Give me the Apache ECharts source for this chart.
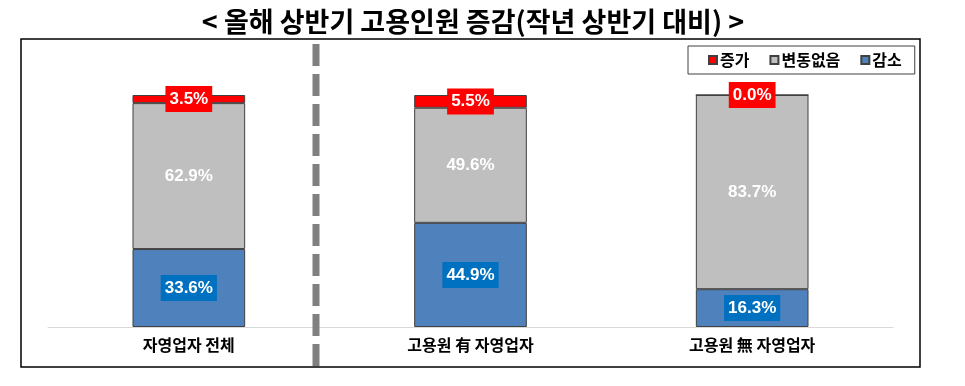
<!DOCTYPE html>
<html><head><meta charset="utf-8">
<script src="https://cdn.jsdelivr.net/npm/echarts@6/dist/echarts.min.js"></script>
<style>html,body{margin:0;padding:0;background:#fff}#c{width:965px;height:386px}</style>
</head><body><div id="c"></div>
<script>
const categories = ['자영업자 전체', '고용원 有 자영업자', '고용원 無 자영업자'];
const increase = [3.5, 5.5, 0.0];
const unchanged = [62.9, 49.6, 83.7];
const decrease = [33.6, 44.9, 16.3];
const seriesNames = ['증가', '변동없음', '감소'];
const titleText = '< 올해 상반기 고용인원 증감(작년 상반기 대비) >';

const chart = echarts.init(document.getElementById('c'), null, {renderer: 'canvas'});
const numFont = '"Liberation Sans", Arial, sans-serif';
const krFont = '"Noto Sans CJK KR", sans-serif';
const fmt = p => p.value.toFixed(1) + '%';
chart.setOption({
  animation: false,
  title: {
    text: titleText, left: 468, top: 3, textAlign: 'center',
    textStyle: {fontFamily: krFont, fontSize: 27, fontWeight: 'bold', color: '#000'}
  },
  legend: {
    data: seriesNames, left: 688, top: 46,
    icon: 'rect', itemWidth: 8, itemHeight: 8, itemGap: 20,
    padding: [6, 13, 6, 20],
    borderColor: '#404040', borderWidth: 1,
    textStyle: {fontFamily: krFont, fontSize: 16, fontWeight: 'bold', color: '#000', padding: [0, 0, 0, -2]}
  },
  grid: {left: 48, right: 72, top: 95, bottom: 59},
  xAxis: {
    type: 'category', data: categories,
    axisLine: {lineStyle: {color: '#D9D9D9', width: 1}},
    axisTick: {show: false},
    axisLabel: {margin: 10, fontFamily: krFont, fontSize: 16, fontWeight: 'bold', color: '#000'}
  },
  yAxis: {type: 'value', min: 0, max: 100, show: false, splitLine: {show: false}},
  series: [
    {
      name: '감소', type: 'bar', stack: 't', data: decrease, barWidth: '40%',
      itemStyle: {color: '#4F81BD', borderColor: '#404040', borderWidth: 1},
      label: {show: true, position: 'inside', formatter: fmt, color: '#fff', fontWeight: 'bold',
        fontFamily: numFont, fontSize: 17, backgroundColor: '#0070C0', padding: [5, 4, 4, 4]}
    },
    {
      name: '변동없음', type: 'bar', stack: 't', data: unchanged,
      itemStyle: {color: '#BFBFBF', borderColor: '#404040', borderWidth: 1},
      label: {show: true, position: 'inside', formatter: fmt, color: '#fff', fontWeight: 'bold',
        fontFamily: numFont, fontSize: 17}
    },
    {
      name: '증가', type: 'bar', stack: 't', data: increase,
      itemStyle: {color: '#FF0000', borderColor: '#404040', borderWidth: 1},
      label: {show: true, position: 'inside', formatter: fmt, color: '#fff', fontWeight: 'bold',
        fontFamily: numFont, fontSize: 17, backgroundColor: '#FF0000', padding: [5, 4, 4, 4]}
    }
  ],
  graphic: [
    {type: 'rect', shape: {x: 21, y: 39, width: 899, height: 328}, style: {fill: 'none', stroke: '#000', lineWidth: 1.5}, z: 100},
    {type: 'line', shape: {x1: 316, y1: 44, x2: 316, y2: 366}, style: {stroke: '#808080', lineWidth: 7, lineDash: [22, 8]}, z: 50}
  ]
});
</script></body></html>
